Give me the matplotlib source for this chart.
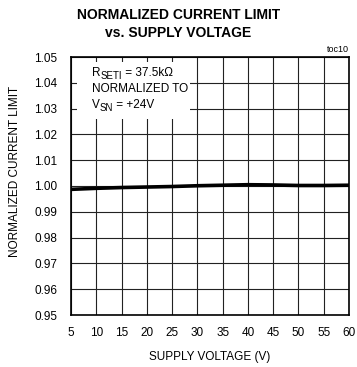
import matplotlib
matplotlib.use('Agg')
import matplotlib.pyplot as plt
from matplotlib.patches import Rectangle
from matplotlib.transforms import offset_copy

plt.rcParams['font.family'] = ['Liberation Sans Narrow', 'Liberation Sans', 'DejaVu Sans']

# data
supply_v = [5, 10, 15, 20, 25, 30, 35, 40, 45, 50, 55, 60]
norm_limit = [0.9987, 0.9991, 0.9994, 0.9996, 0.9998, 1.0001, 1.0003, 1.0005, 1.0004, 1.0002, 1.0002, 1.0003]
x_ticks = list(range(5, 61, 5))
y_ticks = [0.95, 0.96, 0.97, 0.98, 0.99, 1.00, 1.01, 1.02, 1.03, 1.04, 1.05]

fig = plt.figure(figsize=(3.57, 3.67), dpi=100, facecolor='white')
ax = fig.add_axes([71/357, 52/367, 278/357, 258/367])

ax.plot(supply_v, norm_limit, color='black', linewidth=2.6, solid_capstyle='butt', zorder=5)

ax.set_xlim(5, 60)
ax.set_ylim(0.95, 1.05)
ax.set_xticks(x_ticks)
ax.set_yticks(y_ticks)
ax.set_yticklabels(['%.2f' % v for v in y_ticks])
ax.tick_params(length=0, labelsize=8.5)
ax.tick_params(axis='x', pad=9)
ax.tick_params(axis='y', pad=10)
ax.grid(True, color='#222222', linewidth=0.8)
ax.set_axisbelow(True)
for s in ax.spines.values():
    s.set_linewidth(1.2)

ax.set_xlabel('SUPPLY VOLTAGE (V)', fontsize=8.5, labelpad=8)
ax.set_ylabel('NORMALIZED CURRENT LIMIT', fontsize=8.5)
ax.yaxis.set_label_coords(-50/278, (315-171)/258)

# white box behind the annotation
ax.add_patch(Rectangle((6/278, (315-119)/258), 113/278, 57/258, transform=ax.transAxes,
                       facecolor='white', edgecolor='none', zorder=2))

renderer = fig.canvas.get_renderer()


def sub_text(x, y, main, sub, rest):
    # main letter, a larger-than-mathtext subscript, then the rest of the line
    t1 = ax.text(x, y, main, transform=ax.transAxes, fontsize=8.5, va='baseline', zorder=3)
    w1 = t1.get_window_extent(renderer).width
    tr = offset_copy(ax.transAxes, fig=fig, x=w1 * 72 / fig.dpi, y=-2.2, units='points')
    t2 = ax.text(x, y, sub, transform=tr, fontsize=7, va='baseline', zorder=3)
    w2 = t2.get_window_extent(renderer).width
    tr2 = offset_copy(ax.transAxes, fig=fig, x=(w1 + w2) * 72 / fig.dpi, y=0, units='points')
    ax.text(x, y, rest, transform=tr2, fontsize=8.5, va='baseline', zorder=3)


sub_text(21/278, (315-76)/258, 'R', 'SETI', ' = 37.5k\u03a9')
ax.text(21/278, (315-92)/258, 'NORMALIZED TO', transform=ax.transAxes,
        fontsize=8.5, va='baseline', zorder=3)
sub_text(21/278, (315-108)/258, 'V', 'SN', ' = +24V')

ax.text(1.0, 1.012, 'toc10', transform=ax.transAxes, fontsize=6.5, ha='right', va='bottom')

fig.text(0.5, 1 - 15/367, 'NORMALIZED CURRENT LIMIT', fontsize=10, fontweight='bold',
         ha='center', va='center')
fig.text(0.5, 1 - 33/367, 'vs. SUPPLY VOLTAGE', fontsize=10, fontweight='bold',
         ha='center', va='center')

fig.savefig('out.png', dpi=100)
